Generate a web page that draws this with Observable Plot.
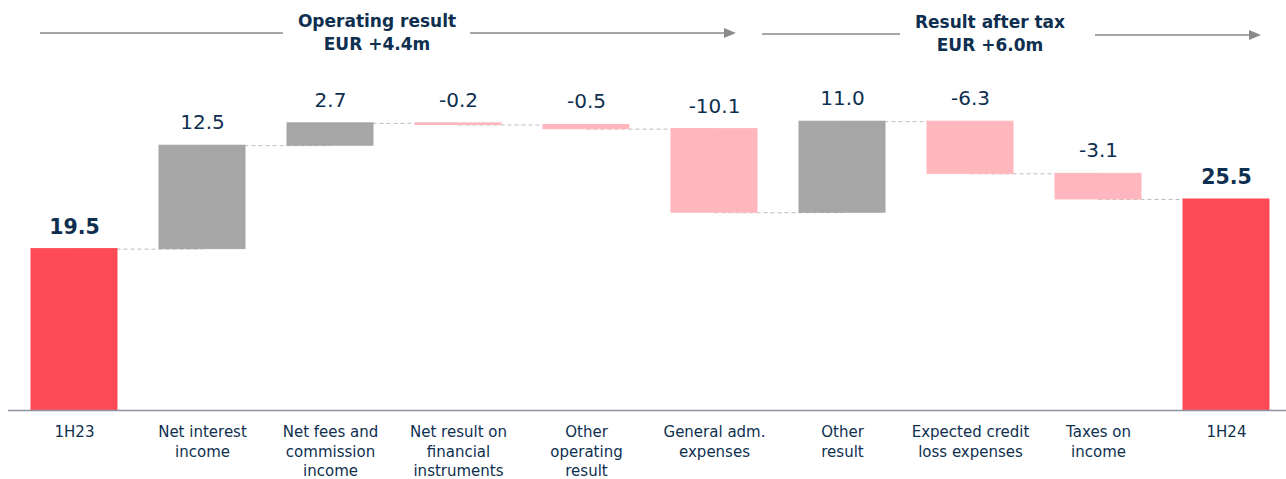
<!DOCTYPE html>
<html>
<head>
<meta charset="utf-8">
<script src="https://cdn.jsdelivr.net/npm/d3@7"></script>
<script src="https://cdn.jsdelivr.net/npm/@observablehq/plot@0.6"></script>
<style>
  html, body { margin: 0; padding: 0; background: #fff; }
  body { width: 1286px; height: 479px; overflow: hidden; font-family: "DejaVu Sans", sans-serif; }
  #header { position: relative; width: 1286px; height: 60px; }
  #header svg { position: absolute; left: 0; top: 0; }
  #chart svg { display: block; }
</style>
</head>
<body>
<div id="header">
  <svg width="1286" height="60" font-family="DejaVu Sans, sans-serif">
    <g stroke="#8a8a8a" stroke-width="1.6">
      <line x1="40" y1="33" x2="283" y2="33"/>
      <line x1="470" y1="33" x2="726" y2="33"/>
      <line x1="762" y1="34" x2="900" y2="34"/>
      <line x1="1095" y1="35" x2="1251" y2="35"/>
    </g>
    <g fill="#8a8a8a">
      <path d="M724,28 L736,33 L724,38 Z"/>
      <path d="M1249,30 L1261,35 L1249,40 Z"/>
    </g>
    <g fill="#0e2f4f" font-weight="bold" font-size="17" text-anchor="middle">
      <text x="377" y="27">Operating result</text>
      <text x="377" y="50">EUR +4.4m</text>
      <text x="990" y="28">Result after tax</text>
      <text x="990" y="51">EUR +6.0m</text>
    </g>
  </svg>
</div>
<div id="chart"></div>
<script>
// ---- data ----
const categories = ["1H23", "Net interest income", "Net fees and commission income", "Net result on financial instruments", "Other operating result", "General adm. expenses", "Other result", "Expected credit loss expenses", "Taxes on income", "1H24"];
const tickLabels = ["1H23", "Net interest\nincome", "Net fees and\ncommission\nincome", "Net result on\nfinancial\ninstruments", "Other\noperating\nresult", "General adm.\nexpenses", "Other\nresult", "Expected credit\nloss expenses", "Taxes on\nincome", "1H24"];
const values = [19.5, 12.5, 2.7, -0.2, -0.5, -10.1, 11.0, -6.3, -3.1, 25.5];
const kinds = ["total", "delta", "delta", "delta", "delta", "delta", "delta", "delta", "delta", "total"];

// ---- build waterfall rows ----
let running = 0;
const rows = categories.map((c, i) => {
  let y1, y2;
  if (kinds[i] === "total") { y1 = 0; y2 = values[i]; running = values[i]; }
  else { y1 = running; y2 = running + values[i]; running = y2; }
  const type = kinds[i] === "total" ? "total" : (values[i] >= 0 ? "up" : "down");
  return {cat: c, value: values[i], y1, y2, top: Math.max(y1, y2), end: y2, type};
});
const links = rows.slice(0, -1).map((r, i) => ({from: r.cat, to: rows[i + 1].cat, level: r.end}));
const labelOf = Object.fromEntries(categories.map((c, i) => [c, tickLabels[i]]));
const totals = rows.filter(d => d.type === "total");
const deltas = rows.filter(d => d.type !== "total");

const colors = {total: "#ff4b57", up: "#a6a6a6", down: "#ffb7bd"};

const chart = Plot.plot({
  width: 1286,
  height: 419,
  marginTop: 19,
  marginBottom: 69,
  marginLeft: 29,
  marginRight: 16,
  style: {fontFamily: "'DejaVu Sans', sans-serif", fontSize: "15px", color: "#0e2f4f"},
  x: {type: "band", domain: categories, paddingInner: 0.33, paddingOuter: 0, axis: null},
  y: {domain: [0, 40], axis: null},
  marks: [
    Plot.link(links, {x1: "from", x2: "to", y1: "level", y2: "level", stroke: "#bdbdbd", strokeWidth: 1, strokeDasharray: "4,3"}),
    Plot.barY(rows, {x: "cat", y1: "y1", y2: "y2", fill: d => colors[d.type], stroke: d => colors[d.type], strokeWidth: 1}),
    Plot.ruleY([0], {stroke: "#8e95a3", strokeWidth: 1.5, insetLeft: -21, insetRight: -16}),
    Plot.text(deltas, {x: "cat", y: "top", text: d => d.value.toFixed(1), dy: -23, fontSize: 20, fill: "#0e2f4f"}),
    Plot.text(totals, {x: "cat", y: "top", text: d => d.value.toFixed(1), dy: -22, fontSize: 20.5, fontWeight: "bold", fill: "#0e2f4f"}),
    Plot.axisX({tickSize: 0, tickPadding: 13, lineAnchor: "top", lineHeight: 1.3, fontSize: 15, fill: "#0e2f4f",
      tickFormat: c => labelOf[c]})
  ]
});
document.getElementById("chart").appendChild(chart);
</script>
</body>
</html>
